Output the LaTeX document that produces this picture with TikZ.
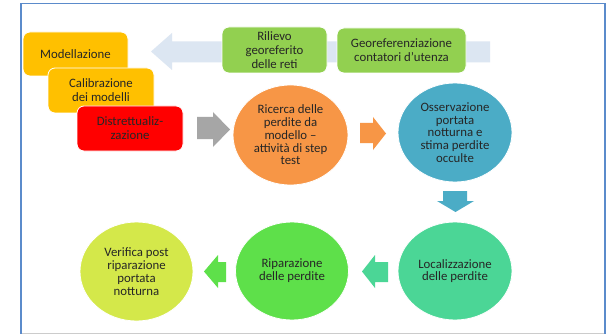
\documentclass[tikz,border=0pt]{standalone}
\usepackage{fontspec}
\setmainfont{Carlito}
\usetikzlibrary{shapes.geometric}
\begin{document}
\begin{tikzpicture}[x=1pt,y=-1pt,
  box/.style={rounded corners=7pt, draw=white, line width=0.8pt, align=center, text=black!85,
    font=\fontsize{12.8}{13.8}\selectfont, inner sep=0pt},
  circ/.style={ellipse, draw=white, line width=0.8pt, align=center, text=black!85,
    font=\fontsize{12.8}{12.8}\selectfont, inner sep=0pt},
  blk/.style={draw=none}]
\definecolor{frameblue}{HTML}{5B8BCB}
\definecolor{bigarrow}{HTML}{DCE6F2}
\definecolor{gold}{HTML}{FFC000}
\definecolor{ored}{HTML}{FF0000}
\definecolor{lgreen}{HTML}{92D050}
\definecolor{orng}{HTML}{F79646}
\definecolor{aqua}{HTML}{4BACC6}
\definecolor{teal}{HTML}{4BD696}
\definecolor{bgreen}{HTML}{5EE04A}
\definecolor{ygreen}{HTML}{D4E84A}
\useasboundingbox (0,0) rectangle (610,334);
\fill[white] (0,0) rectangle (610,334);
% frame
\draw[draw=black!20, line width=1pt] (20.5,333) -- (605,333);
\draw[frameblue, line width=1.8pt] (21,334) -- (21,3.5) -- (605,3.5) -- (605,334);
% big left arrow
\fill[bigarrow] (151,51.5) -- (172,33) -- (172,41.5) -- (490,41.5) -- (490,62.5) -- (172,62.5) -- (172,70) -- cycle;
% boxes
\node[box, fill=gold, minimum width=105pt, minimum height=44pt] (mod) at (75.5,54) {Modellazione};
\node[box, fill=gold, minimum width=106pt, minimum height=45pt] (cal) at (101,90.5) {Calibrazione\\dei modelli};
\node[box, fill=ored, minimum width=106pt, minimum height=45pt] (dis) at (130,128.5) {Distrettualiz-\\zazione};
\node[box, fill=lgreen, minimum width=105pt, minimum height=46pt] (ril) at (274.5,50) {Rilievo\\georeferito\\delle reti};
\node[box, fill=lgreen, minimum width=129pt, minimum height=45pt] (geo) at (401.5,50.5) {Georeferenziazione\\contatori d’utenza};
% circles
\node[circ, fill=orng, minimum width=115pt, minimum height=100pt] (ric) at (290.5,135) {Ricerca delle\\perdite da\\modello –\\attività di step\\test};
\node[circ, fill=aqua, minimum width=114pt, minimum height=99pt] (oss) at (455,132.5) {Osservazione\\portata\\notturna e\\stima perdite\\occulte};
\node[circ, fill=teal, minimum width=114pt, minimum height=98pt] (loc) at (455,271) {Localizzazione\\delle perdite};
\node[circ, fill=bgreen, minimum width=113pt, minimum height=98pt] (rip) at (292,271) {Riparazione\\delle perdite};
\node[circ, fill=ygreen, minimum width=113pt, minimum height=99pt] (ver) at (136.5,271.5) {Verifica post\\riparazione\\portata\\notturna};
% block arrows
\fill[black!35] (197,117) -- (213,117) -- (213,112) -- (230,129.5) -- (213,147) -- (213,139) -- (197,139) -- cycle;
\fill[orng] (360,123) -- (373,123) -- (373,117) -- (386,133.5) -- (373,150) -- (373,143) -- (360,143) -- cycle;
\fill[aqua] (443,191) -- (467,191) -- (467,201) -- (474,201) -- (455.5,212) -- (437,201) -- (443,201) -- cycle;
\fill[teal] (362,271.5) -- (375,255) -- (375,262) -- (388,262) -- (388,282) -- (375,282) -- (375,288) -- cycle;
\fill[bgreen] (204,271.5) -- (218,255) -- (218,262) -- (226,262) -- (226,282) -- (218,282) -- (218,288) -- cycle;
\end{tikzpicture}
\end{document}
